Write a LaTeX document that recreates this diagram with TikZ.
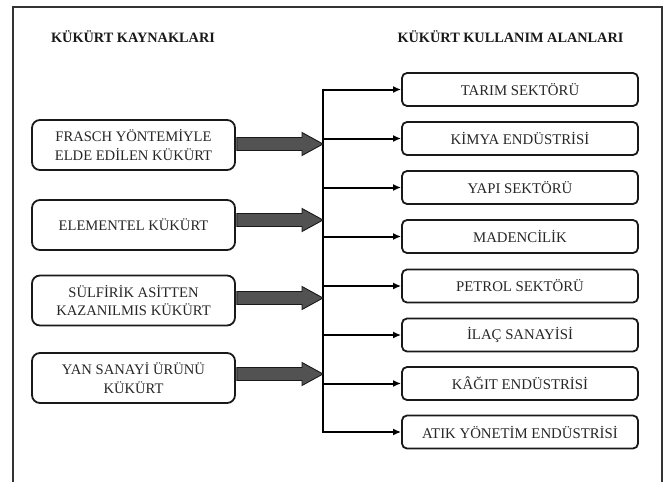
\documentclass[tikz,border=0pt]{standalone}
\usepackage{fontspec}
\setmainfont{Liberation Serif}
\usetikzlibrary{calc,arrows.meta}
\begin{document}
\begin{tikzpicture}[x=1pt,y=-1pt,
  frame/.style={draw=black!80, line width=1.2pt},
  srcbox/.style={draw=black!90, line width=1.8pt, rounded corners=8pt, minimum width=203pt, minimum height=50pt, align=center, inner sep=0pt, font=\fontsize{14.6}{18.5}\selectfont, text=black!85},
  usebox/.style={draw=black!90, line width=1.8pt, rounded corners=5pt, minimum width=236pt, minimum height=33pt, inner sep=0pt, font=\fontsize{14.8}{17}\selectfont, text=black!85},
  title/.style={font=\bfseries\fontsize{14.3}{16}\selectfont, text=black!90},
  fatarrow/.style={fill=black!68, draw=black!90, line width=0.9pt, line join=miter},
  branch/.style={draw=black, line width=2pt, -{Latex[length=8pt,width=7pt]}},
  trunk/.style={draw=black, line width=2pt}]
\useasboundingbox (0,0) rectangle (666,482);
\draw[frame] (13,482) -- (13,7) -- (662,7) -- (662,482);

\node[title] (tl) at (133,37) {KÜKÜRT KAYNAKLARI};
\node[title] (tr) at (510.5,37) {KÜKÜRT KULLANIM ALANLARI};

\node[srcbox] (s1) at (133.5,145) {FRASCH YÖNTEMİYLE\\ELDE EDİLEN KÜKÜRT};
\node[srcbox] (s2) at (133.5,225) {ELEMENTEL KÜKÜRT};
\node[srcbox] (s3) at (133.5,300.5) {SÜLFİRİK ASİTTEN\\KAZANILMIS KÜKÜRT};
\node[srcbox] (s4) at (133.5,378) {YAN SANAYİ ÜRÜNÜ\\KÜKÜRT};

\node[usebox] (u1) at (520,89.5) {TARIM SEKTÖRÜ};
\node[usebox] (u2) at (520,138.5) {KİMYA ENDÜSTRİSİ};
\node[usebox] (u3) at (520,187.5) {YAPI SEKTÖRÜ};
\node[usebox] (u4) at (520,236.5) {MADENCİLİK};
\node[usebox] (u5) at (520,286) {PETROL SEKTÖRÜ};
\node[usebox] (u6) at (520,335) {İLAÇ SANAYİSİ};
\node[usebox] (u7) at (520,383.5) {KÂĞIT ENDÜSTRİSİ};
\node[usebox] (u8) at (520,432) {ATIK YÖNETİM ENDÜSTRİSİ};

% trunk coordinates
\coordinate (ttop) at (323,89.5);
\coordinate (tbot) at (323,432);
\draw[trunk] ($(ttop)+(0,-1)$) -- ($(tbot)+(0,1)$);

\foreach \i in {1,...,8}{
  \draw[branch] (u\i.west -| ttop) -- (u\i.west);
}

% fat arrows
\foreach \i/\dy in {1/-1,2/-5,3/-2.5,4/-4}{
  \path (s\i.east) ++(0,\dy) coordinate (a\i);
  \coordinate (h\i) at (a\i -| ttop);
  \draw[fatarrow] ($(a\i)+(0.9,-6.5)$) -- ($(h\i)+(-21,-6.5)$) -- ($(h\i)+(-21,-11.5)$)
     -- (h\i) -- ($(h\i)+(-21,11.5)$) -- ($(h\i)+(-21,6.5)$) -- ($(a\i)+(0.9,6.5)$) -- cycle;
}
\end{tikzpicture}
\end{document}
